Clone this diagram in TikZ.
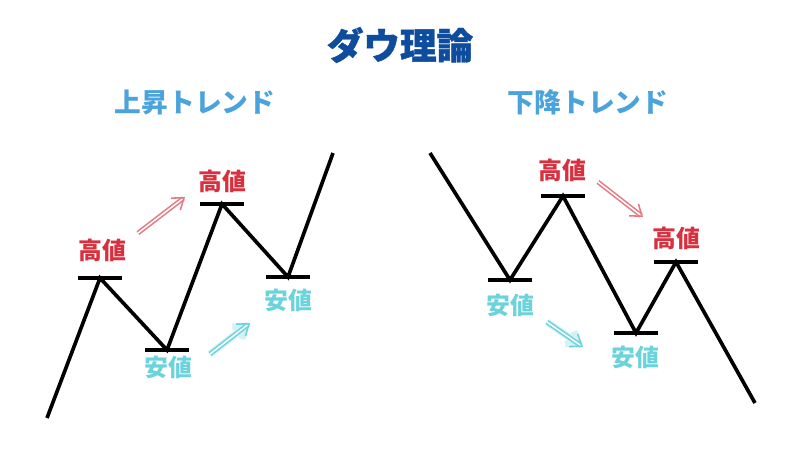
\documentclass[tikz,border=0pt]{standalone}
\usepackage{fontspec}
\usetikzlibrary{arrows.meta,positioning}
\newfontfamily\jp{Noto Sans CJK JP}
\newfontfamily\jpheavy{Noto Sans CJK JP}[BoldFeatures={FakeBold=1.2}]
\definecolor{titleblue}{HTML}{0E4C9E}
\definecolor{trendblue}{HTML}{4BA3DB}
\definecolor{highred}{HTML}{D8303E}
\definecolor{lowcyan}{HTML}{6BD3DC}

\begin{document}
\begin{tikzpicture}[x=0.025cm, y=-0.025cm,
  zig/.style={line width=2.6pt, black, line join=miter},
  barnode/.style={rectangle, fill=black, inner sep=0pt, minimum width=1.1cm, minimum height=0.1cm},
  hilabel/.style={font=\jp\bfseries\fontsize{17}{17}\selectfont, text=highred},
  lolabel/.style={font=\jp\bfseries\fontsize{17}{17}\selectfont, text=lowcyan},
  trendlabel/.style={font=\jp\bfseries\fontsize{19}{19}\selectfont, text=trendblue},
  harr/.style={-{Straight Barb[length=2.6mm, width=3.8mm]}, draw=highred!65, double=white, double distance=1.1pt, line width=1.1pt},
  larr/.style={-{Straight Barb[length=2.6mm, width=3.8mm]}, draw=lowcyan, double=white, double distance=1.1pt, line width=1.1pt,
    preaction={draw=lowcyan!30, line width=5pt, -{Straight Barb[length=2.6mm, width=3.8mm]}}}
]
  \fill[white] (0,0) rectangle (800,450);
  \useasboundingbox (0,0) rectangle (800,450);

  % titles
  \node[font=\jpheavy\bfseries\fontsize{26}{26}\selectfont, text=titleblue] (title) at (400,45) {ダウ理論};
  \node[trendlabel] (up) at (195,102) {上昇トレンド};
  \node[trendlabel] (down) at (588,102) {下降トレンド};

  % uptrend
  \coordinate (u0) at (47,418);
  \coordinate (u1) at (100,278);
  \coordinate (u2) at (167,350);
  \coordinate (u3) at (222,204);
  \coordinate (u4) at (288,277);
  \coordinate (u5) at (333,153);
  \draw[zig] (u0) -- (u1) -- (u2) -- (u3) -- (u4) -- (u5);
  \node[barnode] (ub1) at (u1) {};
  \node[barnode] (ub2) at (u2) {};
  \node[barnode] (ub3) at (u3) {};
  \node[barnode] (ub4) at (u4) {};
  \node[hilabel] (uh1) at (102,250) {高値};
  \node[hilabel] (uh2) at (222,181) {高値};
  \node[lolabel] (ul1) at (168,367) {安値};
  \node[lolabel] (ul2) at (288,300) {安値};

  \coordinate (uhs) at (138,233);
  \coordinate (uhe) at (185,197);
  \coordinate (uls) at (210,354);
  \coordinate (ule) at (250,323);
  \draw[harr] (uhs) -- (uhe);
  \draw[larr] (uls) -- (ule);

  % downtrend
  \coordinate (d0) at (430,153);
  \coordinate (d1) at (510,280);
  \coordinate (d2) at (563,196);
  \coordinate (d3) at (636,333);
  \coordinate (d4) at (676,262);
  \coordinate (d5) at (755,403);
  \draw[zig] (d0) -- (d1) -- (d2) -- (d3) -- (d4) -- (d5);
  \node[barnode] (db1) at (d1) {};
  \node[barnode] (db2) at (d2) {};
  \node[barnode] (db3) at (d3) {};
  \node[barnode] (db4) at (d4) {};
  \node[lolabel] (dl1) at (510,305) {安値};
  \node[hilabel] (dh1) at (562,170) {高値};
  \node[lolabel] (dl2) at (635,357) {安値};
  \node[hilabel] (dh2) at (676,238) {高値};

  \coordinate (dhs) at (598,182);
  \coordinate (dhe) at (643,217);
  \coordinate (dls) at (547,322);
  \coordinate (dle) at (583,347);
  \draw[harr] (dhs) -- (dhe);
  \draw[larr] (dls) -- (dle);
\end{tikzpicture}
\end{document}
